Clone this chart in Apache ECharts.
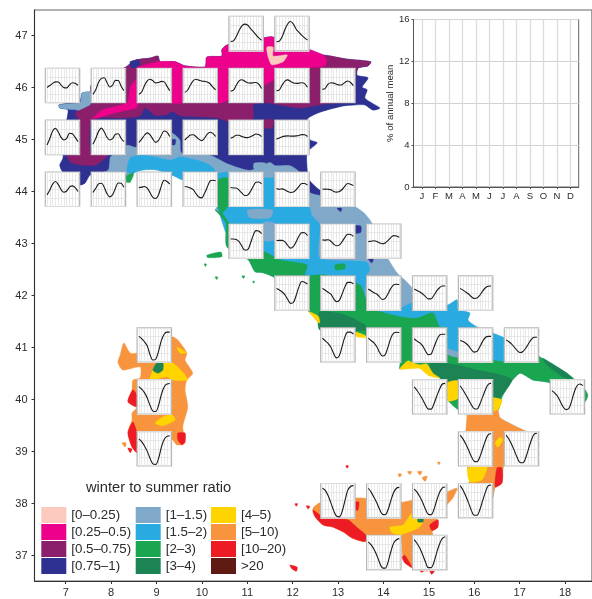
<!DOCTYPE html>
<html><head><meta charset="utf-8">
<style>html,body{margin:0;padding:0;background:#fff}#c{width:592px;height:599px}</style>
<script src="https://cdn.jsdelivr.net/npm/echarts@6/dist/echarts.min.js"></script>
</head><body><div id="c"></div>
<script>
// ---------- tick labels ----------
const lonTicks=[7,8,9,10,11,12,13,14,15,16,17,18];
const latTicks=[37,38,39,40,41,42,43,44,45,46,47];
const months=['J','F','M','A','M','J','J','A','S','O','N','D'];
const monthIdx=[0,1,2,3,4,5,6,7,8,9,10,11];
// ---------- class names ----------
const col1=['[0–0.25)','[0.25–0.5)','[0.5–0.75)','[0.75–1)'];
const col2=['[1–1.5)','[1.5–2)','[2–3)','[3–4)'];
const col3=['[4–5)','[5–10)','[10–20)','>20'];
// ---------- coast lines, lon/lat ----------
const coastAlps=[[6.85,45.67],[7.10,45.71],[7.32,45.76],[7.36,45.90],[7.54,45.92],[7.56,46.05],[8.33,46.40],[8.53,46.53],[8.86,46.57],[9.03,46.61],[9.08,46.50],[9.41,46.50],[9.63,46.42],[10.07,46.40],[10.11,46.59],[10.44,46.61],[10.44,46.73],[10.55,46.82],[10.95,46.92],[11.37,46.96],[11.54,46.98],[12.38,46.73],[12.67,46.63],[13.20,46.55],[13.72,46.50],[13.66,46.42],[13.44,46.38],[13.42,46.24],[13.66,46.19],[13.53,46.01],[13.64,45.96],[13.59,45.80],[13.92,45.61],[13.77,45.57],[13.59,45.67],[13.37,45.67],[13.11,45.65],[12.60,45.53],[12.32,45.40]];
const coastVeneto=[[12.36,45.19],[12.38,45.00],[12.54,44.94],[12.32,44.76],[12.32,44.42],[12.36,44.23],[12.60,44.03],[12.98,43.90]];
const coastMarche=[[13.26,43.78],[13.55,43.61],[13.70,43.46],[13.86,43.21],[14.08,42.75],[14.30,42.44],[14.52,42.26],[14.91,41.92]];
const coastGargano=[[15.42,41.82],[15.62,41.92],[15.64,41.73],[15.90,41.67],[15.86,41.53],[16.06,41.40],[16.41,41.28],[16.61,41.21],[17.29,40.96]];
const coastPuglia=[[17.45,40.82],[18.04,40.51],[18.40,40.24],[18.50,40.09],[18.44,39.96],[18.22,39.84],[17.71,40.15],[17.67,40.32],[17.29,40.38],[17.01,40.51],[16.79,40.32],[16.61,40.05],[16.52,39.80],[16.57,39.65]];
const coastCalabria=[[17.07,39.42],[17.16,39.38],[17.01,39.13],[16.68,38.84],[16.63,38.65],[16.61,38.40],[16.46,38.32],[16.39,38.07],[16.13,37.88],[15.90,37.98],[15.64,38.27],[15.90,38.42],[15.86,38.65],[15.80,39.13],[15.84,39.71]];
const coastLazio=[[15.42,39.99],[15.40,40.32],[15.24,40.42],[15.02,40.51],[14.80,40.67],[14.65,40.67],[14.36,40.59],[14.36,40.71],[14.03,40.96],[13.59,41.24],[13.37,41.30],[12.58,41.47],[12.54,41.59],[12.36,41.69],[11.61,42.34],[11.35,42.44],[11.17,42.46],[11.02,42.69],[10.55,42.94],[10.53,43.40],[10.40,43.55],[10.29,43.65]];
const coastLiguria=[[10.33,43.71],[10.07,44.03],[9.56,44.23],[9.34,44.32],[9.01,44.42],[8.70,44.42],[8.48,44.36],[8.35,44.19],[8.20,44.23]];
const coastWest=[[7.54,44.32],[7.43,44.17],[7.32,44.13],[7.27,44.32],[6.94,44.38],[6.87,44.51],[6.94,44.65],[6.98,45.19],[7.05,45.57],[6.87,45.61]];
// ---------- zones ----------
const mainland=[...coastAlps,...coastVeneto,...coastMarche,...coastGargano,...coastPuglia,...coastCalabria,...coastLazio,...coastLiguria,...coastWest];
const zoneLightBlue=[[8.35,44.38],[8.42,44.65],[8.70,44.71],[9.30,44.61],[9.52,44.67],[9.89,44.61],[10.18,44.51],[10.36,44.36],[10.58,44.38],[11.35,44.26],[11.59,44.26],[11.94,44.03],[12.36,43.71],[12.42,43.55],[12.60,43.36],[12.60,42.73],[13.62,42.65],[13.70,42.50],[13.62,42.38],[13.62,41.92],[14.36,41.76],[14.62,41.86],[15.24,41.82],...coastGargano,[16.68,40.67],[14.36,41.34],[11.72,42.50],[10.62,43.07],...coastLiguria.slice(0,7)];
const steelPatchA=[[11.0,43.65],[11.56,43.65],[11.50,43.50],[11.06,43.50]];
const steelPatchB=[[11.35,43.4],[11.59,43.4],[11.59,43.07],[11.35,43.07]];
const zoneGreen=[[10.29,43.65],[10.44,43.59],[10.58,43.42],[11.06,42.88],[11.39,42.84],[11.72,42.69],[12.32,42.59],[12.27,42.40],[12.71,42.40],[13.48,42.21],[13.62,41.92],[13.81,41.73],[14.41,41.59],[14.74,41.57],[15.09,41.67],[15.24,41.40],[15.40,41.38],[15.42,40.86],[16.41,40.76],[16.65,40.73],[17.43,40.73],[17.29,40.96],...coastPuglia.slice(0,13),[15.84,39.71],...coastLazio];
const greenStrip=[[10.36,44.23],[10.58,44.26],[10.58,43.74],[10.44,43.59],[10.36,43.69]];
const elba=[[10.11,42.78],[10.42,42.84],[10.44,42.75],[10.13,42.73]];
const greenSpot=[[12.93,42.59],[13.15,42.61],[13.15,42.52],[12.95,42.50]];
const greenLiguria=[[8.33,44.30],[8.50,44.36],[8.42,44.18],[8.33,44.19]];
const greenSpecks=[[[10.29,42.36],[10.35,42.36],[10.33,42.31]],[[10.88,42.38],[10.94,42.38],[10.92,42.33]],[[10.05,42.61],[10.10,42.61],[10.08,42.56]],[[11.12,42.28],[11.16,42.28],[11.14,42.24]]];
const darkCampania=[[15.02,40.71],[15.62,40.67],[16.06,40.57],[16.57,40.48],[16.83,40.38],[16.57,40.05],[16.41,40.03],[15.42,40.34],[15.09,40.51]];
const darkSalento=[[17.51,40.80],[18.04,40.51],[18.17,40.38],[17.95,40.44],[17.60,40.67]];
const darkLazio=[[12.60,41.69],[13.15,41.63],[13.59,41.44],[13.62,41.34],[12.60,41.34]];
const yellowCampania=[[14.36,40.59],[14.54,40.75],[14.65,40.71],[14.80,40.67],[14.95,40.69],[15.09,40.51],[15.24,40.42],[15.0,40.46],[14.80,40.60],[14.65,40.60]];
const yellowCilento=[[15.40,40.32],[15.64,40.36],[15.64,40.03],[15.42,39.98]];
const yellowPollino=[[16.41,40.03],[16.61,39.99],[16.52,39.80],[16.41,39.76]];
const yellowCircei=[[12.36,41.69],[12.56,41.61],[12.60,41.50],[12.58,41.47]];
const yellowGaeta=[[13.37,41.30],[13.59,41.24],[13.62,41.19],[13.37,41.22]];
const orangeCalabria=[[15.84,39.71],[16.41,39.76],[16.52,39.80],[16.57,39.65],...coastCalabria];
const sicily=[[12.45,37.92],[12.60,38.02],[13.37,38.11],[13.55,38.11],[14.41,38.03],[14.63,38.07],[15.40,38.23],[15.62,38.30],[15.53,38.11],[15.40,37.98],[15.18,37.69],[15.20,37.55],[15.07,37.50],[15.09,37.40],[15.02,36.72],[14.63,36.77],[14.43,36.97],[14.36,37.36],[13.59,37.27],[13.31,37.34],[13.11,37.46],[12.89,37.55],[12.67,37.59],[12.54,37.72],[12.45,37.82]];
const sardinia=[[8.15,40.72],[8.20,40.86],[8.28,41.09],[8.42,40.90],[8.57,40.90],[9.34,41.21],[9.47,41.15],[9.67,40.90],[9.63,40.76],[9.80,40.51],[9.67,40.38],[9.63,40.19],[9.69,39.86],[9.58,39.48],[9.63,39.17],[9.45,39.13],[9.34,39.23],[9.19,38.84],[8.75,38.84],[8.57,38.98],[8.46,39.09],[8.37,39.38],[8.46,39.61],[8.46,39.74],[8.57,39.86],[8.37,39.96],[8.46,40.19],[8.48,40.38],[8.64,40.42],[8.64,40.63],[8.26,40.57]];
const orangeIslets=[[[8.24,39.17],[8.33,39.17],[8.31,39.09]],[[14.32,38.57],[14.40,38.57],[14.36,38.51]],[[14.53,38.62],[14.62,38.62],[14.58,38.56]],[[14.75,38.62],[14.85,38.62],[14.80,38.55]],[[14.85,38.50],[14.96,38.53],[14.92,38.43]],[[15.19,38.80],[15.25,38.80],[15.22,38.75]]];
const yellowSila=[[16.46,39.17],[16.57,39.28],[16.63,39.23],[16.52,39.09]];
const yellowAspro=[[15.86,38.69],[16.28,38.73],[16.17,38.46],[15.90,38.42]];
const yellowEtna=[[14.14,37.55],[14.43,37.59],[14.63,37.82],[14.76,37.73],[14.87,37.65],[14.76,37.53],[14.36,37.40],[14.19,37.44]];
const yellowSardA=[[8.92,40.57],[9.01,40.71],[9.34,40.71],[9.58,40.53],[9.69,40.38],[9.34,40.38],[9.23,40.44],[8.86,40.38]];
const yellowSardB=[[8.97,39.55],[9.14,39.67],[9.34,39.71],[9.41,39.61],[9.14,39.50]];
const yellowSardC=[[9.45,41.01],[9.67,40.90],[9.52,40.90]];
const darkSard=[[8.92,40.57],[9.01,40.71],[9.14,40.71],[9.14,40.57],[9.03,40.51]];
const darkEtna=[[14.76,37.73],[14.87,37.73],[14.87,37.65],[14.76,37.65]];
const redCalabria=[[16.50,38.69],[16.61,38.69],[16.61,38.40],[16.46,38.32]];
const redSicilyA=[[12.45,37.88],[12.49,37.75],[12.67,37.59],[12.89,37.55],[13.11,37.46],[13.31,37.34],[13.59,37.27],[13.63,37.38],[13.41,37.55],[13.22,37.69],[12.98,37.73],[12.63,37.77]];
const redSicilyB=[[15.02,37.59],[15.20,37.69],[15.20,37.55],[15.07,37.48]];
const redSicilyC=[[14.41,36.97],[14.47,37.01],[14.63,36.77],[14.47,36.86]];
const redSicilyD=[[13.37,38.03],[13.46,38.03],[13.44,37.88],[13.37,37.88]];
const redSardA=[[8.48,40.19],[8.57,40.09],[8.57,39.86],[8.37,39.96]];
const redSardB=[[8.48,39.57],[8.37,39.36],[8.46,39.09],[8.57,38.98],[8.57,39.36]];
const redSardC=[[9.47,39.36],[9.63,39.36],[9.63,39.19],[9.56,39.13],[9.47,39.23]];
const redIslets=[[[8.37,39.07],[8.46,39.05],[8.42,38.98]],[[11.94,36.82],[12.10,36.78],[12.08,36.70],[11.98,36.75]],[[12.05,38.00],[12.11,38.00],[12.08,37.95]],[[12.30,37.96],[12.38,37.95],[12.34,37.90]],[[13.17,38.73],[13.23,38.73],[13.20,38.68]],[[14.78,36.74],[14.90,36.72],[14.84,36.68]],[[15.02,36.72],[15.12,36.70],[15.06,36.64]]];
const navyNorth=[...coastAlps,...coastVeneto,[12.38,43.99],[12.16,44.38],[11.94,44.51],[11.61,44.51],[11.50,44.57],[11.06,44.42],[10.55,44.55],[10.18,44.71],[9.56,44.75],[9.52,45.00],[9.30,45.15],[8.57,44.86],[8.35,44.90],[7.98,44.67],[7.93,44.42],...coastWest];
const navySpots=[[[9.28,45.0],[9.42,45.0],[9.40,44.90],[9.28,44.92]],[[13.36,43.34],[13.50,43.34],[13.50,43.22],[13.38,43.20]],[[12.98,43.68],[13.08,43.68],[13.06,43.62]],[[13.66,42.72],[13.78,42.72],[13.74,42.63]]];
const steelWest=[[6.85,45.67],[7.32,45.72],[7.36,45.90],[7.54,45.92],[7.58,45.76],[7.43,45.53],[7.25,45.57],[6.87,45.61]];
const steelPatchC=[[11.15,44.55],[11.40,44.55],[11.40,44.44],[11.15,44.44]];
const purpleAlps=[[7.21,45.51],[7.60,45.71],[7.56,46.05],[8.33,46.40],[8.53,46.53],[8.86,46.57],[9.03,46.61],[9.08,46.50],[9.63,46.42],[10.07,46.40],[11.06,46.53],[12.67,46.63],[13.20,46.55],[13.72,46.50],[13.66,46.42],[13.44,46.38],[13.37,46.15],[13.37,45.76],[12.71,45.69],[12.16,45.61],[11.39,45.71],[11.13,45.67],[11.13,45.42],[10.84,45.28],[10.33,45.42],[9.52,45.46],[9.34,45.55],[9.25,45.49],[8.97,45.47],[8.75,45.61],[8.64,45.46],[8.35,45.42],[7.58,45.38],[7.56,44.73],[7.93,44.71],[7.65,44.51],[7.14,44.55],[7.03,44.69],[7.29,44.73],[7.29,45.38]];
const purpleBump=[[11.35,45.38],[11.57,45.38],[11.55,45.23],[11.35,45.23]];
const pinkAlps=[[7.60,45.40],[7.80,45.57],[8.35,45.71],[8.42,46.01],[8.57,46.19],[8.57,46.38],[9.03,46.50],[9.41,46.50],[9.63,46.42],[10.07,46.40],[10.11,46.59],[10.44,46.61],[10.44,46.73],[10.55,46.82],[10.95,46.92],[11.37,46.96],[11.54,46.98],[12.38,46.73],[12.67,46.63],[12.75,46.53],[12.71,46.42],[12.36,46.38],[11.59,46.15],[11.35,46.05],[11.06,46.15],[10.58,45.76],[10.36,45.71],[9.74,45.96],[9.56,45.71],[9.32,45.71],[8.86,46.05],[8.55,45.61],[8.35,45.57],[7.98,45.49]];
const palePink=[[11.43,46.78],[11.57,46.78],[11.57,46.61],[11.88,46.63],[11.79,46.50],[11.54,46.44],[11.46,46.59]];
const navyTip=[[8.42,46.50],[8.61,46.53],[8.64,46.44],[8.44,46.38]];
// ---------- monthly profiles, % of annual mean ----------
const cellIds=['r0c4','r0c5','r1c0','r1c1','r1c2','r1c3','r1c4','r1c5','r1c6','r2c0','r2c1','r2c2','r2c3','r2c4','r2c5','r3c0','r3c1','r3c2','r3c3','r3c4','r3c5','r3c6','r4c4','r4c5','r4c6','r4c7','r5c5','r5c6','r5c7','r5c8','r5c9','r6c2','r6c6','r6c7','r6c8','r6c9','r6c10','r7c2','r7c8','r7c9','r7c11','r8c2','r8c9','r8c10','r9c6','r9c7','r9c8','r9c9','r10c7','r10c8'];
const cellValues=[
[4.3,4.6,6.6,9.4,11.6,12.4,12,10.4,9,7.5,6,4.9],
[4.2,4.5,6.5,10,12.6,13.6,12.4,10,8.6,7.2,6,5],
[7.1,8,9,9.7,9.6,8.2,7,6.9,8.3,9.3,9,8.1],
[3.9,6,9.5,11.3,11.6,9.4,7.3,8.2,10.4,10.3,7.8,5.6],
[3.9,5,7.9,10.2,10.9,10.2,9.2,9.4,9.9,9.7,7.7,5.6],
[4.8,5.8,8.2,10.2,10.9,10.5,10.1,9.9,9.6,8.8,7.2,6],
[5.4,5.8,8.1,10.1,10.7,10,9.3,9.1,9.3,9.4,8.6,6.6],
[5.6,6,8.2,10,10.6,9.9,9.2,9,9.1,9.3,8.9,7.2],
[6.2,6.7,8.6,9.3,9.1,8.6,8.2,8.4,9.4,10.1,9.4,7.9],
[4.5,7.5,11,12.2,10.5,8,6.8,7.5,9.9,9.7,8,6],
[4.8,7.5,10.8,12.3,10.6,8,6.8,7.4,9.5,9.7,7.6,6],
[5.7,7.2,9,10.1,9.2,7.2,5.7,6.6,9,11,10.5,8.4],
[6.8,8,9.1,9.2,8.4,7.2,6.5,7.6,9.5,10.4,9.9,8.4],
[7.6,8.2,9,9,8.4,8,7.9,8.3,8.9,9.6,9.4,8.4],
[7.2,7.7,8.3,8.6,8.7,8.6,8.6,8.7,8.9,9.3,9.2,8.4],
[5.4,7.7,10.4,11.6,10.2,7.8,6.6,7.2,9,9.6,8.8,7],
[6.5,8.5,10.5,10.8,9,6,4.5,5.5,8.5,10.9,10.8,9],
[8.8,9,9.3,8.5,6.4,4.2,3.7,5.5,9.5,12.2,11.6,10.4],
[9.3,9.1,8.6,7.8,6,4.4,4,6,9,11.8,12.2,12],
[8.8,8.6,8.6,7.6,6.3,5.1,5.3,6.9,9.3,11.3,11.4,10.5],
[8.4,8,8.2,7.7,7,6.5,6.7,7.8,9.4,10.7,10.7,9.9],
[8,8.1,8,7.8,7,6.7,7,7.9,9.5,10.7,10.4,9.7],
[9,9,8.8,7.8,5.7,3.9,4,6.8,10.6,12.9,12.7,11.5],
[8.3,8.4,8.4,7.7,6,4.8,5.6,7.8,10.4,12,11.9,10.6],
[8.6,8.5,8.7,8,6.6,5.9,6.2,7.8,9.8,11.2,11.1,10.2],
[7.8,8,8.2,7.9,7.2,6.8,7.2,8.3,9.7,10.6,10.4,9.8],
[10.1,9.4,8.5,7.2,5,3.2,3.6,7,11,13.4,13.1,12.2],
[10.2,9.3,8.4,7.5,5.4,4,4.6,7.6,10.9,13,13,12.3],
[9.9,9,8.2,7.6,6.2,5,5.6,7.7,10.2,11.8,12.1,12],
[9.9,9.2,8.5,7.6,6.4,5.3,5.4,7,9,10.5,11.3,11.3],
[10.2,9.4,8.5,7.6,6.3,5.5,5.7,7,8.9,10.5,11.2,11.3],
[12,11,9.5,7.5,3.5,1,1.4,5,10,13,14,14],
[11.2,9.9,8.8,7,4,2,3,7.4,11.8,14,14,13.1],
[11.2,10,9,7.2,4.6,2.9,3.5,7.1,11.2,13.5,13.9,13.8],
[10.9,9.8,9,7.6,5.2,3.5,3.8,6.9,10.2,12.6,13,13],
[10.1,9.6,8.8,7.6,5.8,4.7,5,7.2,9.7,11.5,12,12],
[10.4,9.5,8.4,6.9,5.4,4.5,5,6.5,8.6,10.6,11.6,11.6],
[12.8,11.6,10,7.5,4,1.4,1.2,4,9,12.6,14,14.2],
[12.7,11,9,6.8,4.2,2.4,2.3,4.8,8.3,11.6,14,14.3],
[13.2,11.2,9,6.7,4.3,2.5,2.4,4.6,8,11.3,13.8,14.4],
[10.9,9.8,8.3,5.8,3.3,2.1,2.6,6,10.5,13.3,14,13.2],
[12.6,11.3,9.3,6.8,3.5,1,0.7,3.5,8.6,12.3,13.8,14.1],
[14.4,12.6,10.2,7.4,4.4,2.2,2,4.2,8,11.8,14.6,15],
[14.4,12.6,10,7,3.8,1.6,1.5,3.8,8,12,14.8,15.2],
[13.8,12.8,10.4,7,3.4,0.8,0.5,3,8,12.8,14.6,15],
[13.8,12,9.6,7,4,1.7,1.5,3.8,8,11.8,13.8,14.2],
[13.4,12,9.8,7.2,4,1.7,1.5,3.9,8.2,11.8,14,14.4],
[15,13,10.2,7,3.5,1.2,1.2,3.8,8,12,15,15.3],
[13,11.6,9.6,6.8,3.4,0.9,0.8,3.6,8.4,12.4,14,14.5],
[14,12.2,10,7,3.6,1,1,3.5,8,12,14.6,15.4]
];

// ---------- paint order ----------
const colors={'[0–0.25)':'#FBC9BD','[0.25–0.5)':'#EC008C','[0.5–0.75)':'#8B1F6B','[0.75–1)':'#2E3192','[1–1.5)':'#7FA8C9','[1.5–2)':'#29ABE2','[2–3)':'#1AA551','[3–4)':'#1B8354','[4–5)':'#FFD400','[5–10)':'#F7943D','[10–20)':'#ED1C24','>20':'#5F1A14'};
const layers=[
['[1–1.5)',[mainland]],
['[1.5–2)',[zoneLightBlue]],
['[1–1.5)',[steelPatchA,steelPatchB]],
['[2–3)',[zoneGreen,greenStrip,elba,greenSpot,greenLiguria,...greenSpecks]],
['[3–4)',[darkCampania,darkSalento,darkLazio]],
['[4–5)',[yellowCampania,yellowCilento,yellowPollino,yellowCircei,yellowGaeta]],
['[5–10)',[orangeCalabria,sicily,sardinia,...orangeIslets]],
['[4–5)',[yellowSila,yellowAspro,yellowEtna,yellowSardA,yellowSardB,yellowSardC]],
['[3–4)',[darkSard,darkEtna]],
['[10–20)',[redCalabria,redSicilyA,redSicilyB,redSicilyC,redSicilyD,redSardA,redSardB,redSardC,...redIslets]],
['[0.75–1)',[navyNorth,...navySpots]],
['[1–1.5)',[steelWest,steelPatchC]],
['[0.5–0.75)',[purpleAlps,purpleBump]],
['[0.25–0.5)',[pinkAlps]],
['[0–0.25)',[palePink]],
['[0.75–1)',[navyTip]],
['>20',[]]
];
const series=layers.map(([name,polys])=>({
  type:'custom',name,coordinateSystem:'cartesian2d',xAxisIndex:0,yAxisIndex:0,z:1,silent:true,clip:false,
  itemStyle:{color:colors[name]},legendIcon:'rect',
  data:polys.map((p,i)=>[p[0][0],p[0][1],i]),
  renderItem:(params,api)=>({type:'polygon',
    shape:{points:polys[params.dataIndex].map(p=>api.coord(p)),smooth:0.22},
    style:{fill:colors[name],stroke:colors[name],lineWidth:0.4}})
}));

const txt='#2b2b2b', font='Liberation Sans';
const grids=[{left:34.5,top:10,width:557.5,height:571,show:true,borderColor:'#666',borderWidth:1.2,backgroundColor:'#fff',z:0}];
const xAxes=[{gridIndex:0,type:'value',min:6.313,max:18.593,splitLine:{show:false},
  axisLine:{onZero:false,lineStyle:{color:'#333',width:1}},
  axisTick:{length:3,customValues:lonTicks,lineStyle:{color:'#333'}},
  axisLabel:{customValues:lonTicks,color:txt,fontSize:11,fontFamily:font,margin:6}}];
const yAxes=[{gridIndex:0,type:'value',min:36.514,max:47.495,splitLine:{show:false},
  axisLine:{onZero:false,lineStyle:{color:'#333',width:1}},
  axisTick:{length:3,customValues:latTicks,lineStyle:{color:'#333'}},
  axisLabel:{customValues:latTicks,color:txt,fontSize:11,fontFamily:font,margin:7}}];

// empty key panel
grids.push({left:413.5,top:19.5,width:165.2,height:167.5,show:true,borderColor:'#666',borderWidth:1,z:3});
xAxes.push({gridIndex:1,type:'value',min:-0.62,max:11.62,z:4,
  axisLine:{onZero:false,lineStyle:{color:'#555'}},
  axisTick:{length:2,customValues:monthIdx,lineStyle:{color:'#555'}},
  axisLabel:{customValues:monthIdx,formatter:v=>months[v],color:txt,fontSize:9.5,fontFamily:font,margin:4},
  splitLine:{show:true,lineStyle:{color:'#dcdcdc',width:1.3}}});
yAxes.push({gridIndex:1,type:'value',min:0,max:16,interval:4,z:4,
  name:'% of annual mean',nameLocation:'middle',nameRotate:90,nameGap:15,
  nameTextStyle:{color:txt,fontSize:9.6,fontFamily:font},
  axisLine:{onZero:false,lineStyle:{color:'#555'}},axisTick:{length:2,lineStyle:{color:'#555'}},
  axisLabel:{color:txt,fontSize:9.5,fontFamily:font,margin:4},
  splitLine:{show:true,lineStyle:{color:'#d2d2d2',width:1}}});

// small profile panels
cellIds.forEach((id,i)=>{
  const m=id.match(/r(\d+)c(\d+)/), r=+m[1], c=+m[2], g=i+2;
  grids.push({left:45.3+45.9*c,top:16.4+51.9*r,width:34.4,height:34.4,show:true,
    borderColor:'#b5b5b5',borderWidth:1.2,backgroundColor:'#fff',z:3});
  xAxes.push({gridIndex:g,type:'value',min:-0.62,max:11.62,z:4,
    axisLine:{show:false},axisLabel:{show:false},
    axisTick:{show:false,customValues:monthIdx},
    splitLine:{show:true,lineStyle:{color:'#e2e2e2',width:0.8}}});
  yAxes.push({gridIndex:g,type:'value',min:0,max:16,interval:4,z:4,
    axisLine:{show:false},axisLabel:{show:false},axisTick:{show:false},
    splitLine:{show:true,lineStyle:{color:'#e2e2e2',width:0.8}}});
  series.push({type:'line',xAxisIndex:g,yAxisIndex:g,z:5,silent:true,showSymbol:false,smooth:0.35,
    lineStyle:{color:'#1a1a1a',width:1.1},data:cellValues[i].map((v,k)=>[monthIdx[k],v])});
});

const legendBase={orient:'vertical',top:507,itemWidth:25,itemHeight:16,itemGap:1,padding:0,icon:'rect',selectedMode:false,z:6,
  textStyle:{color:txt,fontSize:13.3,fontFamily:font,lineHeight:16}};
const chart=echarts.init(document.getElementById('c'),null,{renderer:'canvas'});
chart.setOption({
  animation:false,backgroundColor:'#fff',
  title:{text:'winter to summer ratio',left:86,top:480,padding:0,textStyle:{color:txt,fontSize:14.7,fontWeight:'normal',fontFamily:font}},
  legend:[{...legendBase,left:41.3,data:col1},{...legendBase,left:135.7,data:col2},{...legendBase,left:211,data:col3}],
  grid:grids,xAxis:xAxes,yAxis:yAxes,series
});
</script></body></html>
